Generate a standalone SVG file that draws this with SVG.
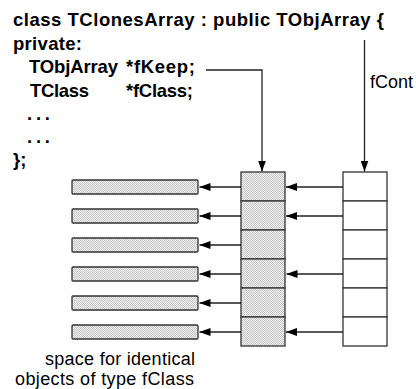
<svg xmlns="http://www.w3.org/2000/svg" width="416" height="389" viewBox="0 0 416 389">
<defs>
<pattern id="dots" width="2" height="2" patternUnits="userSpaceOnUse">
<rect width="2" height="2" fill="#ebebeb"/>
<rect width="1" height="1" fill="#cdcdcd"/>
<rect x="1" y="1" width="1" height="1" fill="#cdcdcd"/>
</pattern>
<marker id="ah" markerUnits="userSpaceOnUse" markerWidth="11" markerHeight="8" refX="11" refY="4" orient="auto">
<path d="M0,0 L11,4 L0,8 z" fill="#000"/>
</marker>
<style>
.code{font-family:"Liberation Sans",Arial,sans-serif;font-weight:bold;font-size:18.5px;fill:#000}
.lbl{font-family:"Liberation Sans",Arial,sans-serif;font-size:18px;fill:#000}
.cell{stroke:#333;stroke-width:1.3}
.gray{fill:url(#dots)}
.white{fill:#fff}
.bar{fill:url(#dots);stroke:#333;stroke-width:1.3}
.conn{stroke:#222;stroke-width:1.3;fill:none;marker-end:url(#ah)}
</style>
</defs>
<rect width="416" height="389" fill="#fff"/>
<g id="code">
<text class="code" x="13" y="26" textLength="371" lengthAdjust="spacing">class TClonesArray : public TObjArray  {</text>
<text class="code" x="13" y="49.5" textLength="69" lengthAdjust="spacing">private:</text>
<text class="code" x="29" y="73" textLength="89" lengthAdjust="spacing">TObjArray</text>
<text class="code" x="126" y="73" textLength="69" lengthAdjust="spacing">*fKeep;</text>
<text class="code" x="30" y="96.5" textLength="59" lengthAdjust="spacing">TClass</text>
<text class="code" x="126" y="96.5" textLength="67" lengthAdjust="spacing">*fClass;</text>
<text class="code" x="27" y="120" textLength="23" lengthAdjust="spacing">. . .</text>
<text class="code" x="27" y="143" textLength="23" lengthAdjust="spacing">. . .</text>
<text class="code" x="13" y="166">};</text>
</g>
<g id="fKeepArray">
<rect class="cell gray" x="241" y="172" width="44" height="29"/>
<rect class="cell gray" x="241" y="201" width="44" height="29"/>
<rect class="cell gray" x="241" y="230" width="44" height="29"/>
<rect class="cell gray" x="241" y="259" width="44" height="29"/>
<rect class="cell gray" x="241" y="288" width="44" height="29"/>
<rect class="cell gray" x="241" y="317" width="44" height="29"/>
</g>
<g id="fContArray">
<rect class="cell white" x="343" y="172" width="44" height="29"/>
<rect class="cell white" x="343" y="201" width="44" height="29"/>
<rect class="cell white" x="343" y="230" width="44" height="29"/>
<rect class="cell white" x="343" y="259" width="44" height="29"/>
<rect class="cell white" x="343" y="288" width="44" height="29"/>
<rect class="cell white" x="343" y="317" width="44" height="29"/>
</g>
<g id="obj1"><rect class="bar" x="72" y="180" width="126" height="14" rx="1"/></g>
<g id="obj2"><rect class="bar" x="72" y="209" width="126" height="14" rx="1"/></g>
<g id="obj3"><rect class="bar" x="72" y="238" width="126" height="14" rx="1"/></g>
<g id="obj4"><rect class="bar" x="72" y="267" width="126" height="14" rx="1"/></g>
<g id="obj5"><rect class="bar" x="72" y="296" width="126" height="14" rx="1"/></g>
<g id="obj6"><rect class="bar" x="72" y="325" width="126" height="14" rx="1"/></g>
<g id="labels">
<text class="lbl" x="370" y="88" textLength="43" lengthAdjust="spacing">fCont</text>
<text class="lbl" x="45" y="365" textLength="150" lengthAdjust="spacing">space for identical</text>
<text class="lbl" x="15" y="385" textLength="179" lengthAdjust="spacing">objects of type fClass</text>
</g>
<g id="connectors">
<polyline class="conn" points="206,70 262,70 262,171.5"/>
<line class="conn" x1="364.5" y1="40" x2="364.5" y2="171.5"/>
<line class="conn" x1="241" y1="187" x2="199.5" y2="187"/>
<line class="conn" x1="241" y1="216" x2="199.5" y2="216"/>
<line class="conn" x1="241" y1="245" x2="199.5" y2="245"/>
<line class="conn" x1="241" y1="274" x2="199.5" y2="274"/>
<line class="conn" x1="241" y1="303" x2="199.5" y2="303"/>
<line class="conn" x1="241" y1="332" x2="199.5" y2="332"/>
<line class="conn" x1="343" y1="187" x2="286" y2="187"/>
<line class="conn" x1="343" y1="216" x2="286" y2="216"/>
<line class="conn" x1="343" y1="274" x2="286.5" y2="274"/>
<line class="conn" x1="343" y1="332" x2="286" y2="332"/>
</g>
</svg>
